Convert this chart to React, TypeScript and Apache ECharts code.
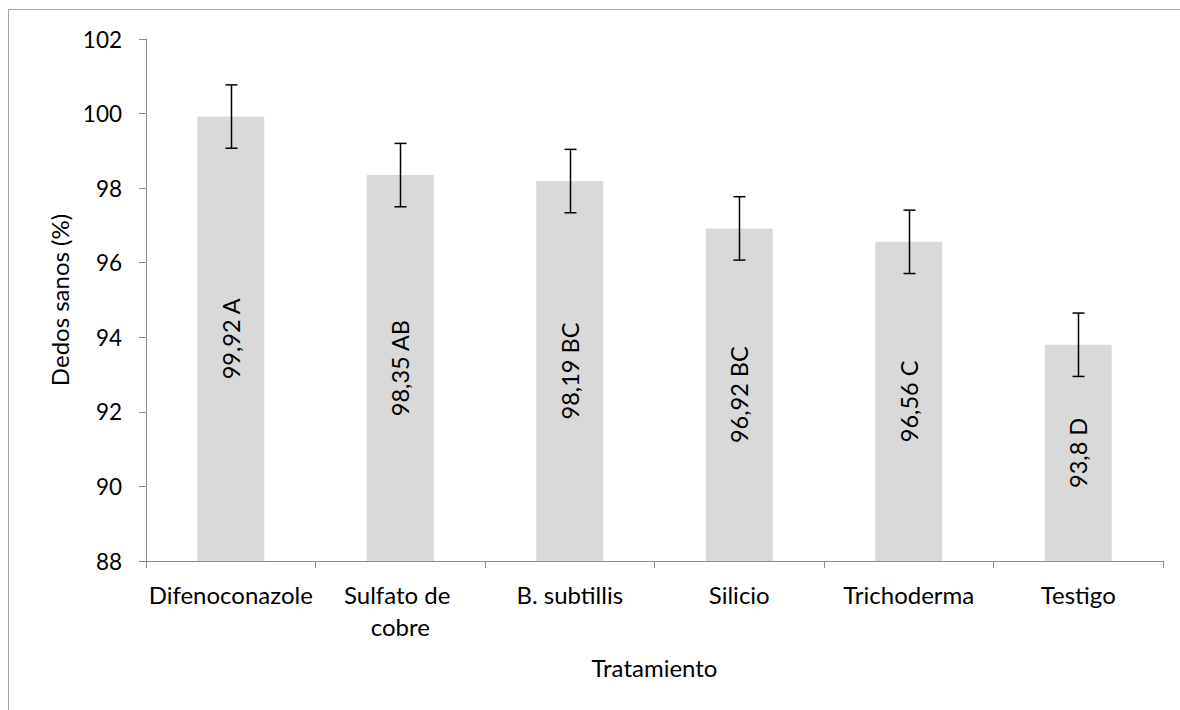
import React, { useEffect, useRef } from "react";
import * as echarts from "echarts";

const categories = ["Difenoconazole", "Sulfato de cobre", "B. subtillis", "Silicio", "Trichoderma", "Testigo"];
const values = [99.92, 98.35, 98.19, 96.92, 96.56, 93.8];
const letters = ["A", "AB", "BC", "BC", "C", "D"];
const errors = [0.85, 0.85, 0.85, 0.85, 0.85, 0.85];
const yMin = 88;
const yMax = 102;
const yInterval = 2;

const FONT = "Lato";

export default function App() {
  const ref = useRef<HTMLDivElement>(null);
  useEffect(() => {
    if (!ref.current) return;
    const chart = echarts.init(ref.current, null, { renderer: "svg" });
    chart.setOption({
      animation: false,
      textStyle: { fontFamily: FONT },
      grid: { left: 146, right: 17, top: 39, bottom: 149, containLabel: false },
      graphic: [
        { type: "line", shape: { x1: 8, y1: 9.5, x2: 1180, y2: 9.5 }, style: { stroke: "#a6a6a6", lineWidth: 1 } },
        { type: "line", shape: { x1: 8.5, y1: 9, x2: 8.5, y2: 710 }, style: { stroke: "#a6a6a6", lineWidth: 1 } },
      ],
      xAxis: {
        type: "category",
        data: categories,
        name: "Tratamiento",
        nameLocation: "middle",
        nameGap: 94,
        nameTextStyle: { fontFamily: FONT, fontSize: 24, color: "#000" },
        axisLine: { lineStyle: { color: "#8c8c8c", width: 1 } },
        axisTick: { show: true, length: 7, alignWithLabel: false, lineStyle: { color: "#8c8c8c" } },
        axisLabel: {
          interval: 0,
          color: "#000",
          fontFamily: FONT,
          fontSize: 24,
          margin: 17,
          width: 172,
          overflow: "break",
          lineHeight: 32,
        },
      },
      yAxis: {
        type: "value",
        min: yMin,
        max: yMax,
        interval: yInterval,
        name: "Dedos sanos (%)",
        nameLocation: "middle",
        nameGap: 74,
        nameTextStyle: { fontFamily: FONT, fontSize: 24, color: "#000" },
        axisLine: { show: true, lineStyle: { color: "#8c8c8c", width: 1 } },
        axisTick: { show: true, length: 7, lineStyle: { color: "#8c8c8c" } },
        splitLine: { show: false },
        axisLabel: { color: "#000", fontFamily: FONT, fontSize: 22.5, margin: 24 },
      },
      series: [
        {
          type: "bar",
          data: values,
          barWidth: "39.5%",
          itemStyle: { color: "#d9d9d9" },
          label: {
            show: true,
            position: "inside",
            rotate: 90,
            color: "#000",
            fontFamily: FONT,
            fontSize: 23.5,
            formatter: (p: any) => String(p.value).replace(".", ",") + " " + letters[p.dataIndex],
          },
          z: 2,
        },
        {
          type: "custom",
          data: values.map((v, i) => [i, v - errors[i], v + errors[i]]),
          z: 5,
          renderItem: (params: any, api: any) => {
            const x = api.value(0);
            const lo = api.coord([x, api.value(1)]);
            const hi = api.coord([x, api.value(2)]);
            const cx = Math.round(lo[0]) + 0.5;
            const hw = 6;
            const style = { stroke: "#000", lineWidth: 1.5 };
            return {
              type: "group",
              children: [
                { type: "line", shape: { x1: cx, y1: hi[1], x2: cx, y2: lo[1] }, style },
                { type: "line", shape: { x1: cx - hw, y1: hi[1], x2: cx + hw, y2: hi[1] }, style },
                { type: "line", shape: { x1: cx - hw, y1: lo[1], x2: cx + hw, y2: lo[1] }, style },
              ],
            };
          },
        },
      ],
    });
    return () => chart.dispose();
  }, []);
  return (
    <div
      ref={ref}
      style={{ position: "absolute", left: 0, top: 0, width: 1180, height: 710, background: "#fff" }}
    />
  );
}
